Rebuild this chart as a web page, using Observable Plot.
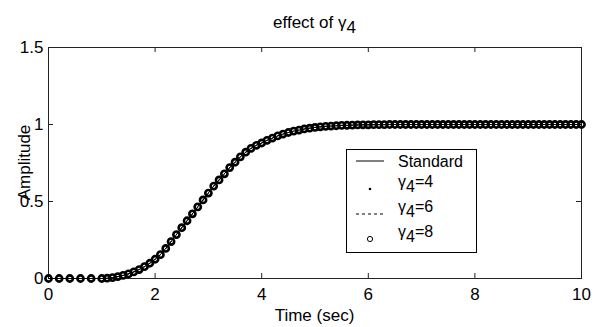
<!DOCTYPE html>
<html>
<head>
<meta charset="utf-8">
<script src="https://cdn.jsdelivr.net/npm/d3@7"></script>
<script src="https://cdn.jsdelivr.net/npm/@observablehq/plot@0.6"></script>
<style>
  html, body { margin: 0; padding: 0; background: #fff; }
  #chart svg { display: block; }
</style>
</head>
<body>
<div id="chart"></div>
<script>
// ---- data ----
const xTicks = [0, 2, 4, 6, 8, 10];
const yTicks = [0, 0.5, 1, 1.5];
const legendLabels = ["Standard", "=4", "=6", "=8"];

const time = [
  0, 0.2, 0.4, 0.6, 0.8,
  1.0, 1.1, 1.2, 1.3, 1.4, 1.5, 1.6, 1.7, 1.8, 1.9,
  2.0, 2.1, 2.2, 2.3, 2.4, 2.5, 2.6, 2.7, 2.8, 2.9,
  3.0, 3.1, 3.2, 3.3, 3.4, 3.5, 3.6, 3.7, 3.8, 3.9,
  4.0, 4.1, 4.2, 4.3, 4.4, 4.5, 4.6, 4.7, 4.8, 4.9,
  5.0, 5.1, 5.2, 5.3, 5.4, 5.5, 5.6, 5.7, 5.8, 5.9,
  6.0, 6.1, 6.2, 6.3, 6.4, 6.5, 6.6, 6.7, 6.8, 6.9,
  7.0, 7.1, 7.2, 7.3, 7.4, 7.5, 7.6, 7.7, 7.8, 7.9,
  8.0, 8.1, 8.2, 8.3, 8.4, 8.5, 8.6, 8.7, 8.8, 8.9,
  9.0, 9.1, 9.2, 9.3, 9.4, 9.5, 9.6, 9.7, 9.8, 9.9,
  10.0
];
const ampStandard = [
  0, 0, 0, 0, 0,
  0, 0.002, 0.006, 0.012, 0.02, 0.03, 0.043, 0.058, 0.077, 0.099,
  0.125, 0.155, 0.195, 0.24, 0.285, 0.33, 0.375, 0.42, 0.465, 0.51,
  0.555, 0.6, 0.64, 0.68, 0.72, 0.755, 0.79, 0.82, 0.845, 0.865,
  0.88, 0.897, 0.912, 0.926, 0.938, 0.948, 0.957, 0.964, 0.971, 0.976,
  0.981, 0.985, 0.988, 0.99, 0.992, 0.994, 0.995, 0.996, 0.997, 0.998,
  0.998, 0.999, 0.999, 0.999, 1, 1, 1, 1, 1, 1,
  1, 1, 1, 1, 1, 1, 1, 1, 1, 1,
  1, 1, 1, 1, 1, 1, 1, 1, 1, 1,
  1, 1, 1, 1, 1, 1, 1, 1, 1, 1,
  1
];
// the three gamma_4 responses coincide with the standard one in the picture
const ampGamma4 = ampStandard.slice();
const ampGamma6 = ampStandard.slice();
const ampGamma8 = ampStandard.slice();

const toRows = (ys) => time.map((t, i) => ({t, a: ys[i]}));
const rowsStd = toRows(ampStandard);
const rows4 = toRows(ampGamma4);
const rows6 = toRows(ampGamma6);
const rows8 = toRows(ampGamma8);

// ---- layout ----
const W = 596, H = 327;
const mL = 48, mR = 15, mT = 47, mB = 49;
const pw = W - mL - mR, ph = H - mT - mB;
const FONT = "'Liberation Sans', Arial, sans-serif";

const plot = Plot.plot({
  width: W, height: H,
  marginLeft: mL, marginRight: mR, marginTop: mT, marginBottom: mB,
  style: {fontFamily: FONT, background: "#fff", color: "#000"},
  x: {domain: [0, 10]},
  y: {domain: [0, 1.5]},
  marks: [
    Plot.frame({stroke: "#222", strokeWidth: 1}),
    // inward ticks (bottom, top, left, right)
    Plot.tickX(xTicks, {x: d => d, stroke: "#222", insetTop: ph - 5}),
    Plot.tickX(xTicks, {x: d => d, stroke: "#222", insetBottom: ph - 5}),
    Plot.tickY(yTicks, {y: d => d, stroke: "#222", insetRight: pw - 5}),
    Plot.tickY(yTicks, {y: d => d, stroke: "#222", insetLeft: pw - 5}),
    Plot.axisX({ticks: xTicks, tickSize: 0, tickPadding: 9, fontSize: 17, label: null, tickFormat: d => String(d)}),
    Plot.axisY({ticks: yTicks, tickSize: 0, tickPadding: 5, fontSize: 17, label: null, tickFormat: d => String(d)}),
    // series
    Plot.line(rowsStd, {x: "t", y: "a", stroke: "#000", strokeWidth: 1}),
    Plot.line(rows6, {x: "t", y: "a", stroke: "#000", strokeWidth: 1, strokeDasharray: "3,3"}),
    Plot.dot(rows8, {x: "t", y: "a", r: 3.1, fill: "none", stroke: "#000", strokeWidth: 2.6}),
    Plot.dot(rows4, {x: "t", y: "a", r: 0.6, fill: "#000", stroke: null})
  ]
});

document.getElementById("chart").appendChild(plot);

// ---- texts, legend ----
const svg = d3.select(plot);

function gammaText(sel, rest, fs) {
  sel.append("tspan").text("γ");
  sel.append("tspan").attr("dy", fs * 0.32).text("4");
  if (rest) sel.append("tspan").attr("dy", -fs * 0.32).text(rest);
}

// title
const title = svg.append("text")
  .attr("x", mL + pw / 2).attr("y", 28)
  .attr("text-anchor", "middle")
  .attr("font-family", FONT).attr("font-size", 17).attr("fill", "#000");
title.append("tspan").text("effect of ");
gammaText(title, null, 17);

// axis labels
svg.append("text")
  .attr("x", mL + pw / 2).attr("y", 321)
  .attr("text-anchor", "middle")
  .attr("font-family", FONT).attr("font-size", 17).attr("fill", "#000")
  .text("Time (sec)");
svg.append("text")
  .attr("transform", `translate(30,${mT + ph / 2}) rotate(-90)`)
  .attr("text-anchor", "middle")
  .attr("font-family", FONT).attr("font-size", 17).attr("fill", "#000")
  .text("Amplitude");

// legend
const lg = svg.append("g");
lg.append("rect")
  .attr("x", 346.5).attr("y", 149.5).attr("width", 130).attr("height", 103)
  .attr("fill", "#fff").attr("stroke", "#000").attr("stroke-width", 1);
const rowsY = [161, 189, 214, 239];
const symX0 = 356, symX1 = 384, symXc = 370, txtX = 398;
// Standard
lg.append("line").attr("x1", symX0).attr("x2", symX1).attr("y1", rowsY[0]).attr("y2", rowsY[0])
  .attr("stroke", "#000");
// gamma=4 dot
lg.append("circle").attr("cx", symXc).attr("cy", rowsY[1]).attr("r", 1.3).attr("fill", "#000");
// gamma=6 dashed
lg.append("line").attr("x1", symX0).attr("x2", symX1).attr("y1", rowsY[2]).attr("y2", rowsY[2])
  .attr("stroke", "#000").attr("stroke-dasharray", "3,3");
// gamma=8 circle
lg.append("circle").attr("cx", symXc).attr("cy", rowsY[3]).attr("r", 2.6).attr("fill", "none")
  .attr("stroke", "#000").attr("stroke-width", 1);

const ltxt = (y) => lg.append("text").attr("x", txtX).attr("y", y)
  .attr("text-anchor", "start")
  .attr("font-family", FONT).attr("font-size", 16).attr("fill", "#000");
ltxt(rowsY[0] + 6).text(legendLabels[0]);
[1, 2, 3].forEach(i => gammaText(ltxt(rowsY[i] - 2), legendLabels[i], 16));
</script>
</body>
</html>
